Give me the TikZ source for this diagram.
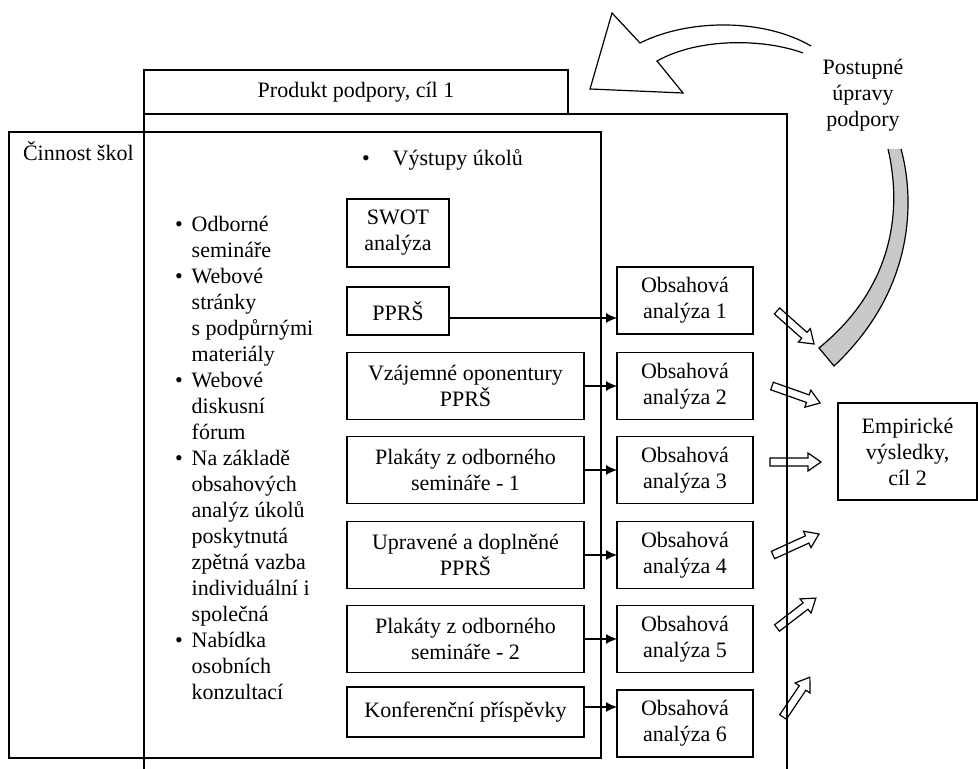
\documentclass[tikz,border=0pt]{standalone}
\usepackage{fontspec}
\setmainfont{Liberation Serif}
\usepackage{tikz}
\usetikzlibrary{arrows.meta}
\definecolor{bandgray}{RGB}{200,201,203}
\tikzset{
  txt/.style={font=\fontsize{11}{13}\selectfont, inner sep=0pt, outer sep=0pt},
  box/.style={txt, draw, align=center},
  link/.style={-{Latex[length=5.5pt,width=5pt]}}
}
\newcommand{\blockarrow}[4]{%
  \draw[shift={(#1,#2)},rotate=#3] (0,-4) -- (#4-13,-4) -- (#4-13,-9) -- (#4,0)
    -- (#4-13,9) -- (#4-13,4) -- (0,4) -- cycle;}

\begin{document}
\begin{tikzpicture}[x=0.5pt,y=-0.5pt,line width=0.6pt]
\useasboundingbox (0,0) rectangle (978,769);
\node[box,minimum width=212pt,minimum height=22pt] (prod) at (356,92) {Produkt podpory, cíl 1};
\node[box,minimum width=296pt,minimum height=313pt] (cinnost) at (305,445) {};
\node[txt,anchor=base west] (cinnostlbl) at (23,161) {Činnost škol};
\coordinate (frameNE) at (787,114);
\coordinate (frameSE) at (787,769);
\coordinate (frameSW) at (144,769);
\draw (prod.north west) -- (frameSW);
\draw (prod.south west) -- (frameNE) -- (frameSE);
\node[txt,anchor=base west] (vystupy) at (362,166) {\textbullet\hspace{11.5pt}Výstupy úkolů};
\node[txt,anchor=base west] (podpora) at (175,232) {\begin{tabular}[t]{@{}l@{\hspace{4.5pt}}l@{}}
\textbullet & Odborné\\
 & semináře\\
\textbullet & Webové\\
 & stránky\\
 & s~podpůrnými\\
 & materiály\\
\textbullet & Webové\\
 & diskusní\\
 & fórum\\
\textbullet & Na základě\\
 & obsahových\\
 & analýz úkolů\\
 & poskytnutá\\
 & zpětná vazba\\
 & individuální i\\
 & společná\\
\textbullet & Nabídka\\
 & osobních\\
 & konzultací
\end{tabular}};
\node[box,minimum width=51pt,minimum height=34pt] (swot) at (398,233) {SWOT\\analýza};
\node[box,minimum width=51pt,minimum height=24pt] (pprs) at (398,311) {PPRŠ};
\node[box,minimum width=118.5pt,minimum height=33.5pt] (vzaj) at (465.5,386) {Vzájemné oponentury\\PPRŠ};
\node[box,minimum width=118.5pt,minimum height=33.5pt] (plak1) at (465.5,470) {Plakáty z odborného\\semináře - 1};
\node[box,minimum width=118.5pt,minimum height=33.5pt] (uprav) at (465.5,555) {Upravené a doplněné\\PPRŠ};
\node[box,minimum width=118.5pt,minimum height=33.5pt] (plak2) at (465.5,639) {Plakáty z odborného\\semináře - 2};
\node[box,minimum width=118.5pt,minimum height=25pt] (konf) at (465.5,712) {Konferenční příspěvky};
\node[box,minimum width=68pt,minimum height=33.5pt] (obs1) at (685,300.5) {Obsahová\\analýza 1};
\node[box,minimum width=68pt,minimum height=33.5pt] (obs2) at (685,386) {Obsahová\\analýza 2};
\node[box,minimum width=68pt,minimum height=33.5pt] (obs3) at (685,470) {Obsahová\\analýza 3};
\node[box,minimum width=68pt,minimum height=33.5pt] (obs4) at (685,555) {Obsahová\\analýza 4};
\node[box,minimum width=68pt,minimum height=33.5pt] (obs5) at (685,639) {Obsahová\\analýza 5};
\node[box,minimum width=68pt,minimum height=33.5pt] (obs6) at (685,723.5) {Obsahová\\analýza 6};
\node[box,minimum width=69.5pt,minimum height=48.5pt] (empir) at (907.5,451.5) {Empirické\\výsledky,\\cíl 2};
\node[txt,align=center] (postup) at (863,95) {Postupné\\úpravy\\podpory};
\path (pprs.east) ++(0,7) coordinate (ppA);
\path (konf.east) ++(0,-5) coordinate (kfA);
\draw[link] (ppA) -- (ppA -| obs1.west);
\draw[link] (vzaj.east) -- (obs2.west);
\draw[link] (plak1.east) -- (obs3.west);
\draw[link] (uprav.east) -- (obs4.west);
\draw[link] (plak2.east) -- (obs5.west);
\draw[link] (kfA) -- (kfA -| obs6.west);
\draw (811,46) .. controls (765,19) and (690,18) .. (640,43) -- (612,13) -- (590,89)
  -- (683,93) -- (657,61) .. controls (700,37) and (765,39) .. (803,53);
\fill[bandgray] (888,149) .. controls (900,200) and (900,282) .. (819,348) -- (834,366)
  .. controls (915,290) and (915,200) .. (901,149) -- cycle;
\draw (888,149) .. controls (900,200) and (900,282) .. (819,348) -- (834,366)
  .. controls (915,290) and (915,200) .. (901,149);
\blockarrow{777}{311}{-41.7}{49.6}
\blockarrow{772}{386}{-19.5}{51}
\blockarrow{770}{462}{0}{51}
\blockarrow{773}{555}{24.5}{50.6}
\blockarrow{777}{628}{37.6}{49}
\blockarrow{783}{717}{56}{48}
\end{tikzpicture}
\end{document}
